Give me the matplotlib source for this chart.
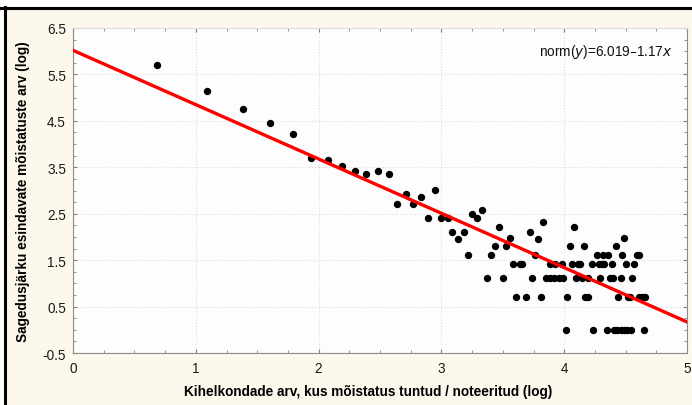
import numpy as np
import matplotlib
matplotlib.use("Agg")
import matplotlib.pyplot as plt
from matplotlib.lines import Line2D
from matplotlib.patches import Rectangle
from matplotlib.ticker import MultipleLocator

# --- data (log scale values) ---
kihelkonnad_log = [
    0.684, 1.09, 1.384, 1.607, 1.79, 1.94, 2.077, 2.19, 2.30, 2.39, 2.48, 2.57,
    2.64, 2.71, 2.77, 2.83, 2.89, 2.95, 3.00, 3.05, 3.09, 3.135, 3.18, 3.22,
    3.25, 3.29, 3.33, 3.37, 3.40, 3.44, 3.47, 3.50, 3.53, 3.56, 3.58, 3.61,
    3.64, 3.66, 3.69, 3.72, 3.74, 3.76, 3.79, 3.81, 3.83,
    3.854, 3.887, 3.915, 3.96, 3.99, 3.887, 3.927, 3.98,
    4.077, 4.49, 4.047, 4.159, 4.42,
    4.267, 4.313, 4.354, 4.468, 4.59, 4.61,
    4.06, 4.11, 4.13, 4.224, 4.286, 4.305, 4.327, 4.387, 4.506, 4.568,
    4.094, 4.142, 4.196, 4.294, 4.373, 4.395, 4.463, 4.555,
    4.025, 4.169, 4.196, 4.436, 4.522, 4.538, 4.612, 4.631, 4.658,
    4.012, 4.237, 4.349, 4.406, 4.433, 4.46, 4.487, 4.514, 4.544, 4.65,
]
moistatused_log = [
    5.71, 5.14, 4.75, 4.45, 4.22, 3.70, 3.66, 3.52, 3.42, 3.35, 3.42, 3.35,
    2.72, 2.92, 2.72, 2.85, 2.41, 3.02, 2.41, 2.41, 2.10, 1.96, 2.10, 1.62,
    2.49, 2.41, 2.58, 1.11, 1.62, 1.80, 2.22, 1.11, 1.80, 1.97, 1.41, 0.70,
    1.41, 1.41, 0.70, 2.10, 1.11, 1.62, 1.96, 0.70, 2.32,
    1.11, 1.11, 1.11, 1.11, 1.11, 1.41, 1.41, 1.41,
    2.22, 1.97, 1.80, 1.80, 1.80,
    1.62, 1.62, 1.62, 1.62, 1.62, 1.62,
    1.41, 1.41, 1.41, 1.41, 1.41, 1.41, 1.41, 1.41, 1.41, 1.41,
    1.11, 1.11, 1.11, 1.11, 1.11, 1.11, 1.11, 1.11,
    0.70, 0.70, 0.70, 0.70, 0.70, 0.70, 0.70, 0.70, 0.70,
    0.0, 0.0, 0.0, 0.0, 0.0, 0.0, 0.0, 0.0, 0.0, 0.0,
]

# regression fit shown in the chart
intercept = 6.019
slope = -1.17
fit_x = [0, 5]

x_ticks = [0, 1, 2, 3, 4, 5]
y_ticks = [-0.5, 0.5, 1.5, 2.5, 3.5, 4.5, 5.5, 6.5]


def main():
    # --- setup ---
    plt.rcParams['font.family'] = ['Liberation Sans', 'DejaVu Sans']
    fig = plt.figure(figsize=(6.92, 4.06), dpi=100, facecolor='white')

    # cream background panel + black frame lines (top and left)
    fig.add_artist(Rectangle((6 / 692, 0), 1, 1 - 10 / 406, transform=fig.transFigure,
                             facecolor='#fcf8ec', edgecolor='none', zorder=0))
    fig.add_artist(Line2D([0, 1], [1 - 9 / 406, 1 - 9 / 406], transform=fig.transFigure,
                          color='black', linewidth=2.2))
    fig.add_artist(Line2D([4.5 / 692, 4.5 / 692], [0, 1 - 8 / 406], transform=fig.transFigure,
                          color='black', linewidth=2.2))

    ax = fig.add_axes([73 / 692, 1 - 354 / 406, 614 / 692, 325 / 406])
    ax.set_facecolor('#fdfdfd')

    # --- plotting the data ---
    ax.plot(kihelkonnad_log, moistatused_log, 'o', color='black', markersize=5.3,
            markeredgewidth=0, zorder=3)
    fx = np.array(fit_x, dtype=float)
    ax.plot(fx, intercept + slope * fx, color='#ff0000', linewidth=2.4, zorder=4)

    ax.text(0.977, 0.958, 'norm($\\mathit{y}$)=6.019\u20131.17$\\mathit{x}$', transform=ax.transAxes,
            ha='right', va='top', fontsize=9.8, color='#111111')

    # --- axes styling ---
    ax.set_xlim(0, 5)
    ax.set_ylim(-0.5, 6.5)
    ax.set_xticks(x_ticks)
    ax.set_yticks(y_ticks)
    ax.set_yticklabels([f'{v:.1f}' for v in y_ticks])
    ax.xaxis.set_minor_locator(MultipleLocator(0.25))
    ax.yaxis.set_minor_locator(MultipleLocator(0.25))
    ax.tick_params(which='both', direction='in', top=True, right=True, color='#808080')
    ax.tick_params(which='major', length=3, labelsize=9.8, labelcolor='#1a1a1a')
    ax.tick_params(axis='x', which='major', pad=6)
    ax.tick_params(axis='y', which='major', pad=5)
    ax.tick_params(which='minor', length=2)
    ax.grid(True, which='major', color='#dcdcdc', linestyle=':', linewidth=0.8)
    for side in ['left', 'bottom', 'right']:
        ax.spines[side].set_color('#8c8c8c')
    ax.spines['top'].set_color('#dcdcdc')

    ax.set_xlabel('Kihelkondade arv, kus mõistatus tuntud / noteeritud (log)',
                  fontsize=9.8, fontweight='bold', va='center')
    ax.xaxis.set_label_coords(0.481, -0.117)
    ax.set_ylabel('Sagedusjärku esindavate mõistatuste arv (log)',
                  fontsize=9.8, fontweight='bold', labelpad=9)

    plt.savefig('out.png', dpi=100, facecolor=fig.get_facecolor())


if __name__ == "__main__":
    main()
